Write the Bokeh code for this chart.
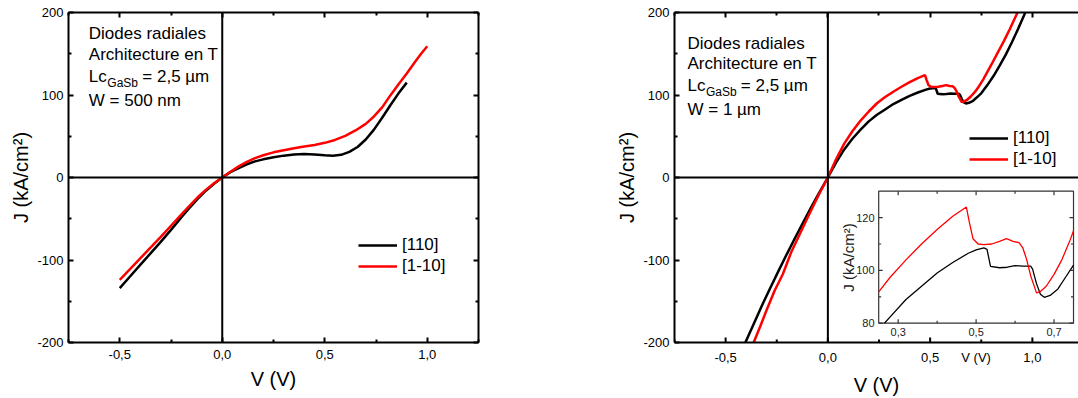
import math
from bokeh.plotting import figure
from bokeh.layouts import row
from bokeh.models import (Range1d, LinearAxis, FixedTicker, CustomJSTickFormatter,
                          Span, Label, Legend, LegendItem)
from bokeh.core.properties import value
from bokeh.embed import file_html
from bokeh.resources import INLINE

FONT = "Liberation Sans"

# ---------------- data ----------------
series_names = ["[110]", "[1-10]"]

# Panel A : W = 500 nm
a_v_110 = [-0.50, -0.45, -0.40, -0.35, -0.30, -0.25, -0.20, -0.16, -0.12, -0.08, -0.04, 0.00,
           0.04, 0.08, 0.12, 0.16, 0.20, 0.25, 0.30, 0.35, 0.40, 0.45, 0.50, 0.54, 0.58,
           0.62, 0.66, 0.70, 0.74, 0.78, 0.82, 0.86, 0.90]
a_j_110 = [-134, -120, -106, -92, -78, -63.5, -48.5, -37, -26, -16, -7.5, 0,
           6.5, 11.5, 16, 19.5, 22, 24.5, 26.5, 28, 28.5, 28, 27, 26.5, 27.5,
           31, 37, 46, 58, 72.5, 87.5, 102, 115]
a_v_1m10 = [-0.50, -0.45, -0.40, -0.35, -0.30, -0.25, -0.20, -0.16, -0.12, -0.08, -0.04, 0.00,
            0.04, 0.08, 0.12, 0.16, 0.20, 0.25, 0.30, 0.35, 0.40, 0.45, 0.50, 0.55, 0.60,
            0.65, 0.70, 0.74, 0.78, 0.82, 0.86, 0.90, 0.94, 0.97, 1.00]
a_j_1m10 = [-124, -111, -98, -85, -72, -58.5, -45, -34.5, -24, -15, -7, 0,
            7, 13.5, 19, 23.5, 27, 30.5, 33, 35.5, 37.5, 39.5, 42, 45.5, 50.5,
            57, 65, 74, 85, 99.5, 113, 126, 140, 150, 159]

# Panel B : W = 1 um
b_v_110 = [-0.43, -0.407, -0.36, -0.32, -0.28, -0.24, -0.20, -0.16, -0.12, -0.08, -0.04, 0.00,
           0.04, 0.08, 0.12, 0.16, 0.20, 0.24, 0.28, 0.32, 0.36, 0.40, 0.44, 0.48, 0.50,
           0.52, 0.528, 0.537, 0.56, 0.58, 0.60, 0.62, 0.64, 0.645, 0.655, 0.665, 0.675,
           0.69, 0.71, 0.73, 0.75, 0.78, 0.81, 0.84, 0.87, 0.90, 0.93, 0.96, 0.99]
b_j_110 = [-215, -202, -176, -154, -133, -112.6, -92.5, -73, -54, -35.4, -17.5, 0,
           18, 34, 47, 58, 68, 76, 82.5, 89, 94, 99, 103, 106.5, 107.8,
           108.5, 108, 101.5, 101, 101.2, 101.8, 101.6, 101.6, 100.5, 95, 91, 89.8,
           90.5, 93, 97.5, 102, 112, 123, 135.5, 149, 164, 180, 197, 214]
b_v_1m10 = [-0.39, -0.366, -0.33, -0.30, -0.26, -0.22, -0.18, -0.14, -0.10, -0.06, -0.03, 0.00,
            0.04, 0.08, 0.12, 0.16, 0.20, 0.24, 0.28, 0.32, 0.36, 0.40, 0.44, 0.46, 0.475,
            0.483, 0.492, 0.505, 0.52, 0.54, 0.56, 0.578, 0.595, 0.61, 0.62, 0.63, 0.64,
            0.655, 0.665, 0.68, 0.70, 0.72, 0.74, 0.76, 0.78, 0.80, 0.83, 0.86, 0.89, 0.92, 0.95]
b_j_1m10 = [-216, -202, -180, -161, -137, -117, -91, -70, -49, -28.6, -14, 0,
            22, 41, 56, 69, 80, 90, 97.5, 104, 110, 115.5, 120.5, 122.5, 124,
            118, 112, 110, 109.8, 110, 111, 112, 111, 110.5, 108.5, 104, 98,
            91.5, 92, 94, 98.5, 104, 111, 119, 128, 137, 151, 165, 180, 196, 212]

# ticks
x_ticks = [-0.5, 0.0, 0.5, 1.0]
x_minor_ticks = [-0.75, -0.25, 0.25, 0.75, 1.25]
y_ticks = [-200, -100, 0, 100, 200]
y_minor_ticks = [-150, -50, 50, 150]
inset_x_range = [0.25, 0.75]
inset_y_range = [80, 130]
inset_x_ticks = [0.3, 0.5, 0.7]
inset_x_minor = [0.4, 0.6]
inset_y_ticks = [80, 100, 120]
inset_y_minor = [90, 110]
inset_x_labels = ["0,3", "0,5", "0,7"]
inset_y_labels = ["80", "100", "120"]

# ---------------- layout constants ----------------
FRAME_H = 330
TOP = 12
BOTTOM = 56
PX_PER_V = 205.0
V0 = -0.75

X_FMT = "return tick.toFixed(1).replace('.', ',');"


def style_axis(ax, show):
    ax.axis_line_width = 2
    ax.axis_line_color = "black"
    ax.major_tick_in = 5
    ax.major_tick_out = 0
    ax.minor_tick_in = 3
    ax.minor_tick_out = 0
    ax.major_tick_line_width = 2
    ax.minor_tick_line_width = 2
    ax.major_tick_line_color = "black"
    ax.minor_tick_line_color = "black"
    if show:
        ax.major_label_text_font = FONT
        ax.major_label_text_font_size = "13px"
        ax.major_label_text_color = "black"
    else:
        ax.major_label_text_color = None
        ax.major_label_standoff = 0


def make_panel(left_border, frame_w, right_border, with_right_axis, extra_bottom=None):
    """extra_bottom: (V position, text) of an additional label on the bottom axis row."""
    x_end = V0 + frame_w / PX_PER_V
    p = figure(width=left_border + frame_w + right_border, height=TOP + FRAME_H + BOTTOM,
               x_range=Range1d(V0, x_end), y_range=Range1d(-200, 200),
               x_axis_type=None, y_axis_type=None, output_backend="svg",
               toolbar_location=None, min_border_left=left_border,
               min_border_right=right_border, min_border_top=TOP, min_border_bottom=BOTTOM)
    p.outline_line_color = None
    p.background_fill_color = "white"
    p.border_fill_color = "white"
    xt = FixedTicker(ticks=x_ticks, minor_ticks=x_minor_ticks)
    yt = FixedTicker(ticks=y_ticks, minor_ticks=y_minor_ticks)
    xf = CustomJSTickFormatter(code=X_FMT)
    yf = CustomJSTickFormatter(code="return tick.toFixed(0);")
    if extra_bottom is None:
        bt, bf = xt, xf
    else:
        bt = FixedTicker(ticks=x_ticks + [extra_bottom[0]], minor_ticks=[])
        bf = CustomJSTickFormatter(
            args=dict(sp=extra_bottom[0], txt=extra_bottom[1]),
            code="if (Math.abs(tick - sp) < 1e-9) { return txt; } " + X_FMT)
    sides = [("below", bt, bf, True), ("left", yt, yf, True), ("above", xt, xf, False)]
    if with_right_axis:
        sides.append(("right", yt, yf, False))
    for side, tk, fm, show in sides:
        ax = LinearAxis(ticker=tk, formatter=fm)
        style_axis(ax, show)
        if side in ("left", "below"):
            ax.axis_label = "J (kA/cm²)" if side == "left" else "V (V)"
            ax.axis_label_text_font = FONT
            ax.axis_label_text_font_size = "20px"
            ax.axis_label_text_font_style = "normal"
            ax.axis_label_text_color = "black"
            if side == "left":
                ax.major_label_standoff = 5
                ax.axis_label_standoff = 2
            else:
                ax.major_label_standoff = 7
                ax.axis_label_standoff = 6
        if side == "below" and extra_bottom is not None:
            # tick marks of this row are drawn as rays below (no mark for the extra label)
            ax.major_tick_line_color = None
            ax.minor_tick_line_color = None
        p.add_layout(ax, side)
    if extra_bottom is not None:
        for ticks, ln in ((x_ticks, 5), (x_minor_ticks, 3)):
            p.ray(x=ticks, y=[-200] * len(ticks), length=ln, angle=math.pi / 2,
                  length_units="screen", line_color="black", line_width=2)
    p.add_layout(Span(location=0, dimension="width", line_color="black", line_width=2))
    p.add_layout(Span(location=0, dimension="height", line_color="black", line_width=2))
    return p


def converters(frame_left_win):
    def px2x(px):
        return V0 + (px - frame_left_win) / PX_PER_V

    def py2y(py):
        return 200 - (py - TOP) * 400.0 / FRAME_H
    return px2x, py2y


def add_text_block(p, px2x, py2y, x0, ys, wline):
    def lab(x, y, t, size):
        p.add_layout(Label(x=x, y=y, text=t, text_font=FONT, text_font_size=size,
                           text_baseline="middle", text_align="left", text_color="black"))
    lab(px2x(x0), py2y(ys[0]), "Diodes radiales", "17px")
    lab(px2x(x0), py2y(ys[1]), "Architecture en T", "17px")
    lab(px2x(x0), py2y(ys[2]), "Lc", "17px")
    lab(px2x(x0 + 18.5), py2y(ys[2] + 6.5), "GaSb", "12px")
    lab(px2x(x0 + 53.5), py2y(ys[2]), "= 2,5 µm", "17px")
    lab(px2x(x0), py2y(ys[3]), wline, "17px")


def add_legend(p, r_black, r_red, loc):
    leg = Legend(items=[LegendItem(label=series_names[0], renderers=[r_black]),
                        LegendItem(label=series_names[1], renderers=[r_red])],
                 location=loc, padding=0, margin=0, border_line_color=None,
                 background_fill_alpha=0, glyph_width=39, glyph_height=20,
                 label_height=20, label_standoff=5, spacing=1,
                 label_text_font=FONT, label_text_font_size="17px",
                 label_text_color="black")
    p.add_layout(leg)


def clip_poly(xs, ys, x0, x1, y0, y1):
    ox, oy = [], []
    nan = float("nan")
    for i in range(len(xs) - 1):
        ax_, ay_, bx_, by_ = xs[i], ys[i], xs[i + 1], ys[i + 1]
        dx, dy = bx_ - ax_, by_ - ay_
        t0, t1 = 0.0, 1.0
        ok = True
        for pp, qq in ((-dx, ax_ - x0), (dx, x1 - ax_), (-dy, ay_ - y0), (dy, y1 - ay_)):
            if pp == 0:
                if qq < 0:
                    ok = False
                    break
            else:
                r = qq / pp
                if pp < 0:
                    if r > t1:
                        ok = False
                        break
                    t0 = max(t0, r)
                else:
                    if r < t0:
                        ok = False
                        break
                    t1 = min(t1, r)
        if not ok:
            if ox and not math.isnan(ox[-1]):
                ox.append(nan)
                oy.append(nan)
            continue
        sx, sy = ax_ + t0 * dx, ay_ + t0 * dy
        ex, ey = ax_ + t1 * dx, ay_ + t1 * dy
        if not ox or math.isnan(ox[-1]) or abs(ox[-1] - sx) > 1e-12 or abs(oy[-1] - sy) > 1e-12:
            if ox and not math.isnan(ox[-1]):
                ox.append(nan)
                oy.append(nan)
            ox.append(sx)
            oy.append(sy)
        ox.append(ex)
        oy.append(ey)
    return ox, oy


# ---------------- panel A ----------------
A_LEFT_WIN = 68
pa = make_panel(68, 410, 135, True)
a_px2x, a_py2y = converters(A_LEFT_WIN)
ra_b = pa.line(a_v_110, a_j_110, line_color="black", line_width=2.5)
ra_r = pa.line(a_v_1m10, a_j_1m10, line_color="#ff0000", line_width=2.5)
add_legend(pa, ra_b, ra_r, (290, 66))
add_text_block(pa, a_px2x, a_py2y, 88.3, [33.3, 53.5, 76, 99.5], "W = 500 nm")

# ---------------- panel B ----------------
B_LEFT_WIN = 613 + 60
IX0, IX1 = 877.7, 1073.0      # window px of inset x = 0.25 / 0.75
IY0, IY1 = 322.7, 190.7       # window px of inset y = 80 / 130
b_px2x, b_py2y = converters(B_LEFT_WIN)
# the inset's x title sits on the main bottom tick-label row, centred under the inset
pb = make_panel(60, 405, 0, False, extra_bottom=(b_px2x((IX0 + IX1) / 2), "V (V)"))
rb_b = pb.line(b_v_110, b_j_110, line_color="black", line_width=2.5)
rb_r = pb.line(b_v_1m10, b_j_1m10, line_color="#ff0000", line_width=2.5)
add_legend(pb, rb_b, rb_r, (295, 173))
add_text_block(pb, b_px2x, b_py2y, 686, [42.7, 63.3, 85, 109.3], "W = 1 µm")

# ---------------- inset (in panel B) ----------------
ix_scale = (inset_x_range[1] - inset_x_range[0]) / (IX1 - IX0)
iy_scale = (inset_y_range[1] - inset_y_range[0]) / (IY0 - IY1)


def ipx2x(px):
    return inset_x_range[0] + (px - IX0) * ix_scale


def ipy2y(py):
    return inset_y_range[0] + (IY0 - py) * iy_scale


pb.extra_x_ranges = {"ix": Range1d(ipx2x(B_LEFT_WIN), ipx2x(B_LEFT_WIN + 405))}
pb.extra_y_ranges = {"iy": Range1d(ipy2y(TOP + FRAME_H), ipy2y(TOP))}
IR = dict(x_range_name="ix", y_range_name="iy")

pb.quad(left=inset_x_range[0], right=inset_x_range[1], bottom=inset_y_range[0],
        top=inset_y_range[1], fill_color="white", line_color="#333333", line_width=1.2, **IR)

ibx, iby = clip_poly(b_v_110, b_j_110, inset_x_range[0], inset_x_range[1],
                     inset_y_range[0], inset_y_range[1])
irx, iry = clip_poly(b_v_1m10, b_j_1m10, inset_x_range[0], inset_x_range[1],
                     inset_y_range[0], inset_y_range[1])
pb.line(ibx, iby, line_color="black", line_width=1.3, **IR)
pb.line(irx, iry, line_color="#ff0000", line_width=1.3, **IR)

tick_style = dict(line_color="#333333", line_width=1.2, length_units="screen", **IR)
for ticks, ln in ((inset_x_ticks, 4), (inset_x_minor, 2.5)):
    pb.ray(x=ticks, y=[inset_y_range[0]] * len(ticks), length=ln, angle=math.pi / 2, **tick_style)
    pb.ray(x=ticks, y=[inset_y_range[1]] * len(ticks), length=ln, angle=-math.pi / 2, **tick_style)
for ticks, ln in ((inset_y_ticks, 4), (inset_y_minor, 2.5)):
    pb.ray(x=[inset_x_range[0]] * len(ticks), y=ticks, length=ln, angle=0.0, **tick_style)
    pb.ray(x=[inset_x_range[1]] * len(ticks), y=ticks, length=ln, angle=math.pi, **tick_style)

pb.text(x=inset_x_ticks, y=[ipy2y(331.7)] * len(inset_x_ticks), text=inset_x_labels,
        text_font=value(FONT), text_font_size=value("11px"), text_align="center",
        text_baseline="middle", text_color="#222222", **IR)
pb.text(x=[ipx2x(873.5)] * len(inset_y_ticks), y=inset_y_ticks, text=inset_y_labels,
        text_font=value(FONT), text_font_size=value("11px"), text_align="right",
        text_baseline="middle", text_color="#222222", **IR)

pb.add_layout(Label(x=b_px2x(847), y=b_py2y(257), text="J (kA/cm²)", angle=math.pi / 2,
                    text_font=FONT, text_font_size="15px", text_align="center",
                    text_baseline="middle", text_color="#222222"))

layout = row(pa, pb)
open("out.html", "w").write(file_html(layout, INLINE))
